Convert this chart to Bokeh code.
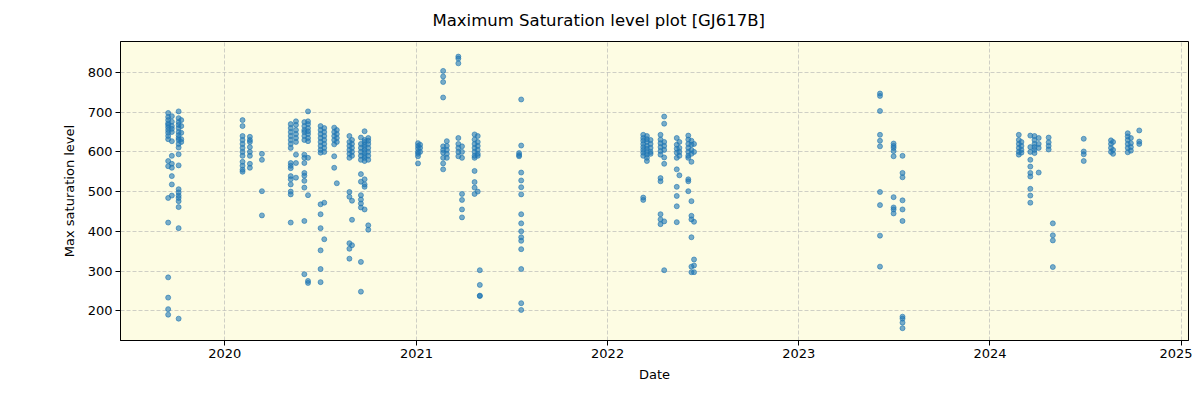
import pandas as pd
from bokeh.plotting import figure
from bokeh.models import FixedTicker, DatetimeTickFormatter, ColumnDataSource, Range1d
from bokeh.embed import file_html
from bokeh.resources import INLINE

TITLE = "Maximum Saturation level plot [GJ617B]"
X_LABEL = "Date"
Y_LABEL = "Max saturation level"
Y_TICKS = [200, 300, 400, 500, 600, 700, 800]
X_TICK_YEARS = [2020, 2021, 2022, 2023, 2024, 2025]

# observation nights and the max saturation levels measured on them
obs_dates = [
    "2019-09-15", "2019-09-22", "2019-10-05", "2019-10-10",
    "2020-02-04", "2020-02-18", "2020-03-12",
    "2020-05-06", "2020-05-16", "2020-06-01", "2020-06-08",
    "2020-07-02", "2020-07-09", "2020-07-28", "2020-08-02",
    "2020-08-26", "2020-08-31", "2020-09-17", "2020-09-24", "2020-10-01",
    "2021-01-04", "2021-01-08", "2021-02-21", "2021-02-28",
    "2021-03-22", "2021-03-29", "2021-04-22", "2021-04-28", "2021-05-02",
    "2021-07-16", "2021-07-20",
    "2022-03-10", "2022-03-17", "2022-03-24", "2022-04-12", "2022-04-19",
    "2022-05-13", "2022-05-18", "2022-06-04", "2022-06-10", "2022-06-15",
    "2023-06-05", "2023-07-01", "2023-07-18",
    "2024-02-25", "2024-03-01", "2024-03-18", "2024-03-26", "2024-04-03",
    "2024-04-22", "2024-04-30", "2024-06-28", "2024-08-19", "2024-08-23",
    "2024-09-20", "2024-09-26", "2024-10-12",
]
obs_values = [
    [698, 688, 680, 672, 668, 662, 655, 648, 640, 632, 577, 564, 484, 422, 284, 233, 204, 190],
    [690, 676, 665, 658, 650, 627, 590, 570, 560, 539, 518, 490],
    [702, 685, 675, 668, 660, 650, 642, 635, 630, 620, 611, 594, 566, 506, 498, 490, 484, 476, 461, 408, 180],
    [680, 665, 648, 632, 625],
    [680, 665, 640, 630, 620, 610, 600, 590, 575, 565, 555, 550],
    [638, 630, 625, 612, 600, 590, 570, 560],
    [595, 580, 501, 440],
    [670, 660, 650, 640, 630, 620, 610, 572, 565, 559, 539, 531, 518, 500, 493, 422],
    [677, 668, 655, 645, 635, 625, 593, 572, 535],
    [675, 665, 655, 650, 640, 630, 593, 585, 572, 547, 540, 527, 510, 426, 292],
    [702, 677, 670, 660, 652, 645, 635, 627, 585, 491, 275, 270],
    [665, 655, 645, 635, 625, 615, 605, 598, 468, 443, 408, 352, 305, 272],
    [660, 650, 640, 630, 620, 610, 600, 472, 380],
    [661, 650, 640, 630, 619, 589, 560],
    [655, 645, 635, 625, 521],
    [640, 625, 615, 605, 595, 585, 499, 487, 370, 356, 331],
    [630, 620, 610, 600, 590, 477, 429, 365],
    [636, 620, 610, 600, 590, 580, 544, 525, 491, 480, 470, 460, 323, 248],
    [652, 630, 625, 618, 612, 605, 598, 590, 585, 577, 531, 518, 512, 455],
    [635, 628, 620, 610, 600, 590, 580, 415, 404],
    [622, 615, 608, 600, 595, 589, 571],
    [618, 610, 600],
    [804, 790, 776, 737, 614, 605, 598, 585, 571, 556],
    [627, 615, 605, 595, 585],
    [840, 835, 823, 635, 620, 610, 600, 589],
    [614, 600, 585, 494, 479, 455, 435],
    [644, 631, 620, 610, 600, 590, 585, 552, 524, 510, 494],
    [640, 625, 615, 605, 595, 590, 500],
    [302, 265, 237, 238],
    [597, 589, 592],
    [732, 616, 548, 528, 511, 493, 443, 420, 400, 385, 376, 355, 305, 219, 202],
    [643, 635, 628, 620, 612, 605, 598, 590, 485, 479],
    [640, 632, 625, 615, 608, 600, 593, 585, 577],
    [630, 620, 610, 600, 595],
    [643, 631, 622, 612, 602, 593, 534, 526, 443, 430, 418],
    [689, 671, 625, 615, 605, 586, 570, 302, 425],
    [635, 618, 608, 598, 585, 556, 512, 489, 463, 423],
    [625, 610, 600, 590, 541],
    [641, 631, 620, 610, 600, 590, 585, 531, 526, 501],
    [628, 618, 605, 595, 575, 476, 439, 430, 385, 311, 297],
    [620, 600, 424, 329, 314, 297],
    [747, 741, 703, 643, 628, 614, 499, 466, 389, 311],
    [621, 615, 610, 602, 589, 486, 460, 455, 445],
    [590, 547, 536, 478, 455, 426, 185, 180, 170, 156],
    [643, 630, 620, 610, 600, 593],
    [625, 615, 605, 598],
    [641, 612, 600, 580, 563, 547, 538, 507, 490, 472],
    [640, 630, 620, 612, 605, 597],
    [635, 620, 610, 548],
    [636, 624, 615, 606],
    [420, 390, 377, 310],
    [633, 601, 594, 577],
    [629, 620, 610, 600],
    [625, 605, 595],
    [647, 639, 630, 620, 610, 599],
    [635, 622, 612, 603],
    [654, 626, 620],
]

xs, ys = [], []
for d, vals in zip(obs_dates, obs_values):
    for v in vals:
        xs.append(pd.Timestamp(d))
        ys.append(v)
src = ColumnDataSource(dict(x=xs, y=ys))

FONT = "DejaVu Sans"
p = figure(
    width=1192, height=392, x_axis_type="datetime",
    output_backend="svg", toolbar_location=None,
    x_range=Range1d(pd.Timestamp("2019-06-16"), pd.Timestamp("2025-01-14")),
    y_range=Range1d(125, 878),
    min_border_left=120, min_border_right=4, min_border_top=40, min_border_bottom=52,
)
p.title.text = TITLE
p.title.align = "left"
p.title.offset = 312
p.title.text_font = FONT
p.title.text_font_size = "16.5px"
p.title.text_font_style = "normal"
p.title.text_color = "black"
p.title.vertical_align = "top"
p.title.standoff = 20

p.background_fill_color = "#fdfce3"
p.border_fill_color = "white"
p.outline_line_color = "black"
p.outline_line_width = 1

p.scatter("x", "y", source=src, size=5, fill_color="#1f77b4", line_color="#1f77b4",
          fill_alpha=0.6, line_alpha=0.6)

p.xaxis.ticker = FixedTicker(ticks=[pd.Timestamp(f"{y}-01-01").value / 1e6 for y in X_TICK_YEARS])
fmt = "%Y"
p.xaxis.formatter = DatetimeTickFormatter(years=fmt, months=fmt, days=fmt, hours=fmt,
                                          minutes=fmt, seconds=fmt, milliseconds=fmt)
p.yaxis.ticker = FixedTicker(ticks=Y_TICKS)
p.xaxis.axis_label = X_LABEL
p.yaxis.axis_label = Y_LABEL

for ax in (p.xaxis, p.yaxis):
    ax.axis_label_text_font = FONT
    ax.axis_label_text_font_size = "13px"
    ax.axis_label_text_font_style = "normal"
    ax.axis_label_text_color = "black"
    ax.major_label_text_font = FONT
    ax.major_label_text_font_size = "13px"
    ax.major_label_text_color = "black"
    ax.major_tick_out = 5
    ax.major_tick_in = 0
    ax.minor_tick_line_color = None
    ax.axis_line_color = "black"
    ax.major_tick_line_color = "black"
    ax.major_label_standoff = 3
p.xaxis.axis_label_standoff = 6
p.yaxis.axis_label_standoff = 8

p.xgrid.grid_line_color = "#b0b0b0"
p.ygrid.grid_line_color = "#b0b0b0"
p.xgrid.grid_line_alpha = 0.6
p.ygrid.grid_line_alpha = 0.6
p.xgrid.grid_line_dash = "4 2"
p.ygrid.grid_line_dash = "4 2"

open("out.html", "w").write(file_html(p, INLINE))
